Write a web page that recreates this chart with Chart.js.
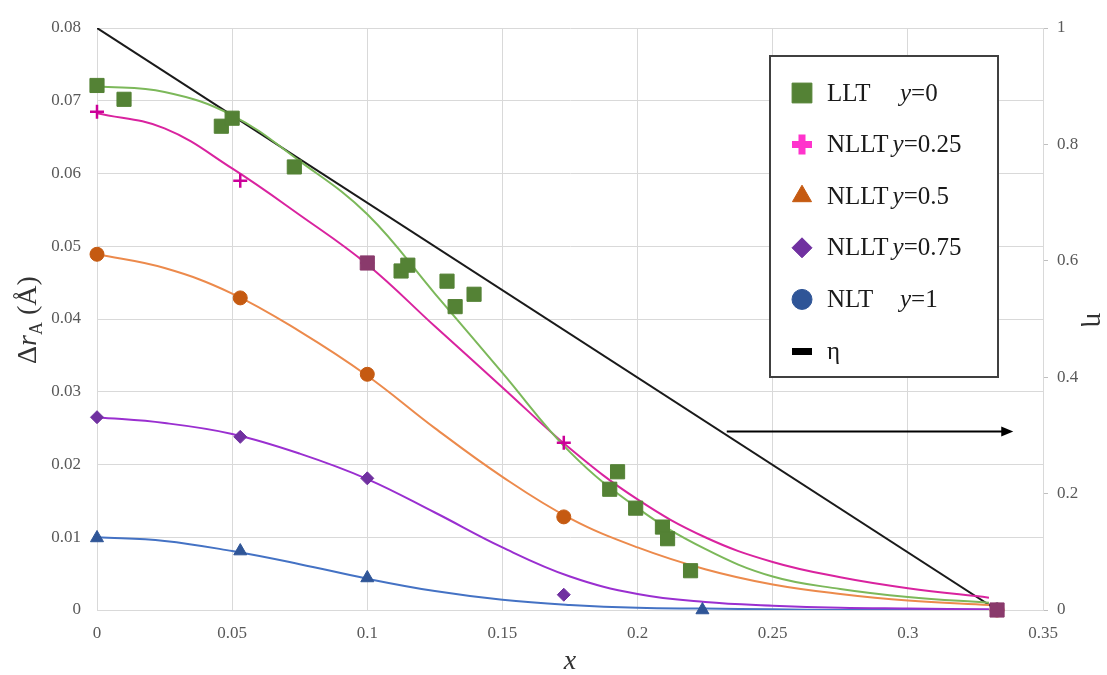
<!DOCTYPE html>
<html>
<head>
<meta charset="utf-8">
<script src="https://cdn.jsdelivr.net/npm/chart.js@4.4.1/dist/chart.umd.min.js"></script>
<style>
    html, body { margin: 0; padding: 0; background: #fff; }
</style>
</head>
<body>
<canvas id="chart" width="1107" height="675"></canvas>
<script>
const lltX = [0, 0.010, 0.046, 0.050, 0.073, 0.100, 0.1125, 0.115, 0.1295, 0.1325, 0.1395, 0.1897, 0.1926, 0.1993, 0.2092, 0.2111, 0.2196, 0.333];
const lltY = [0.0721, 0.0702, 0.0665, 0.0676, 0.0609, 0.0477, 0.0466, 0.0474, 0.0452, 0.0417, 0.0434, 0.0166, 0.0190, 0.0140, 0.0114, 0.0098, 0.0054, 0];

const nllt25X = [0, 0.053, 0.100, 0.1727, 0.333];
const nllt25Y = [0.0685, 0.0590, 0.0477, 0.0230, 0];

const nllt5X = [0, 0.053, 0.100, 0.1727, 0.333];
const nllt5Y = [0.0489, 0.0429, 0.0324, 0.0128, 0];

const nllt75X = [0, 0.053, 0.100, 0.1727, 0.333];
const nllt75Y = [0.0265, 0.0238, 0.0181, 0.0021, 0];

const nltX = [0, 0.053, 0.100, 0.224, 0.333];
const nltY = [0.0099, 0.0081, 0.0044, 0, 0];

// fitted curves, read at fixed x positions
const fitX = [0, 0.025, 0.05, 0.075, 0.1, 0.125, 0.15, 0.175, 0.2, 0.225, 0.25, 0.275, 0.3, 0.33];
const fitLLT = [0.0720, 0.0712, 0.0680, 0.0617, 0.0544, 0.0435, 0.0326, 0.0217, 0.0140, 0.0084, 0.0046, 0.0029, 0.0018, 0.0010];
const fitNLLT25 = [0.0683, 0.0662, 0.0607, 0.0543, 0.0475, 0.0390, 0.0306, 0.0222, 0.0152, 0.0100, 0.0066, 0.0045, 0.0030, 0.0017];
const fitNLLT5 = [0.0489, 0.0470, 0.0435, 0.0383, 0.0322, 0.0250, 0.0183, 0.0126, 0.0086, 0.0056, 0.0035, 0.0022, 0.0013, 0.0007];
const fitNLLT75 = [0.0265, 0.0257, 0.0242, 0.0215, 0.0180, 0.0134, 0.0086, 0.0046, 0.0022, 0.0011, 0.0006, 0.0003, 0.0002, 0.0001];
const fitNLT = [0.0100, 0.0095, 0.0081, 0.0063, 0.0043, 0.0026, 0.0014, 0.0007, 0.0003, 0.0002, 0.0001, 0, 0, 0];

// eta (right axis)
const etaX = [0, 0.333];
const etaY = [1, 0];
const arrowX = [0.233, 0.339];
const arrowEta = 0.307;

// legend
const legendNames = ['LLT', 'NLLT', 'NLLT', 'NLLT', 'NLT', 'η'];
const legendParams = ['=0', '=0.25', '=0.5', '=0.75', '=1', ''];

const SERIF = '"Liberation Serif", "Times New Roman", serif';
const GRID = '#d9d9d9';
const TICK = '#595959';
const GREEN = '#548235';
const MAUVE = '#8a3a6c';   // where a cross sits on top of a square

const pts = (xs, ys) => xs.map((x, i) => ({x: x, y: ys[i]}));

// squares that coincide with a y=0.25 cross look mauve in the original
const lltFill = lltX.map((x, i) => {
    const k = nllt25X.indexOf(x);
    return k >= 0 && Math.abs(nllt25Y[k] - lltY[i]) < 0.001 ? MAUVE : GREEN;
});

function markers(label, xs, ys, style, fill, border, radius, bw) {
    return {
        label: label,
        data: pts(xs, ys),
        yAxisID: 'y',
        showLine: false,
        clip: false,
        pointStyle: style,
        pointRadius: radius,
        pointBackgroundColor: fill,
        pointBorderColor: border,
        pointBorderWidth: bw
    };
}

function fitLine(label, ys, color) {
    return {
        label: label,
        data: pts(fitX, ys),
        yAxisID: 'y',
        borderColor: color,
        borderWidth: 2,
        pointRadius: 0,
        fill: false,
        tension: 0.4
    };
}

// legend marker styles (they differ from the plot markers in the original)
const legendMarks = [
    {pointStyle: 'rect', radius: 14, fill: GREEN, border: GREEN, bw: 1},
    {pointStyle: 'cross', radius: 10, fill: '#ff33cc', border: '#ff33cc', bw: 7},
    {pointStyle: 'triangle', radius: 11, fill: '#c55a11', border: '#c55a11', bw: 1},
    {pointStyle: 'rectRot', radius: 10, fill: '#7030a0', border: '#7030a0', bw: 1},
    {pointStyle: 'circle', radius: 10, fill: '#2f5597', border: '#2f5597', bw: 1},
    {pointStyle: 'bar'}
];

const decor = {
    id: 'decor',
    afterDatasetsDraw(chart) {
        const {ctx, scales} = chart;
        // arrow pointing at the right axis
        const x0 = scales.x.getPixelForValue(arrowX[0]);
        const x1 = scales.x.getPixelForValue(arrowX[1]);
        const y = Math.round(scales.y2.getPixelForValue(arrowEta)) + 0.5;
        ctx.save();
        ctx.strokeStyle = '#000';
        ctx.fillStyle = '#000';
        ctx.lineWidth = 2;
        ctx.beginPath();
        ctx.moveTo(x0, y);
        ctx.lineTo(x1 - 8, y);
        ctx.stroke();
        ctx.beginPath();
        ctx.moveTo(x1, y);
        ctx.lineTo(x1 - 12, y - 5);
        ctx.lineTo(x1 - 12, y + 5);
        ctx.closePath();
        ctx.fill();
        ctx.restore();
    },
    afterDraw(chart) {
        const ctx = chart.ctx;
        ctx.save();

        // legend box
        const bx = 770, by = 56, bw = 228, bh = 321;
        ctx.fillStyle = '#fff';
        ctx.fillRect(bx, by, bw, bh);
        ctx.strokeStyle = '#404040';
        ctx.lineWidth = 2;
        ctx.strokeRect(bx, by, bw, bh);

        ctx.textBaseline = 'middle';
        legendNames.forEach((name, i) => {
            const cy = 93 + i * 51.6;
            const m = legendMarks[i];
            if (m.pointStyle === 'bar') {
                ctx.fillStyle = '#000';
                ctx.fillRect(792, cy - 3, 20, 7);
            } else {
                ctx.fillStyle = m.fill;
                ctx.strokeStyle = m.border;
                ctx.lineWidth = m.bw;
                Chart.helpers.drawPoint(ctx, {pointStyle: m.pointStyle, radius: m.radius, rotation: 0, borderWidth: m.bw}, 802, cy);
            }
            ctx.fillStyle = '#1a1a1a';
            ctx.font = '25px ' + SERIF;
            ctx.fillText(name, 827, cy + 1);
            if (legendParams[i]) {
                const w = ctx.measureText(name).width;
                const px = name === 'NLLT' ? 827 + w + 4 : 900;
                ctx.font = 'italic 25px ' + SERIF;
                ctx.fillText('y', px, cy + 1);
                const yw = ctx.measureText('y').width;
                ctx.font = '25px ' + SERIF;
                ctx.fillText(legendParams[i], px + yw, cy + 1);
            }
        });

        // left axis title: Δr_A (Å)
        ctx.save();
        ctx.translate(36, 320);
        ctx.rotate(-Math.PI / 2);
        ctx.fillStyle = '#333';
        ctx.textBaseline = 'alphabetic';
        const parts = [
            {t: 'Δ', f: '28px ' + SERIF, dy: 0},
            {t: 'r', f: 'italic 28px ' + SERIF, dy: 0},
            {t: 'A', f: '18px ' + SERIF, dy: 6},
            {t: ' (Å)', f: '28px ' + SERIF, dy: 0}
        ];
        let total = 0;
        parts.forEach(p => { ctx.font = p.f; total += ctx.measureText(p.t).width; });
        let cx = -total / 2;
        parts.forEach(p => {
            ctx.font = p.f;
            ctx.fillText(p.t, cx, p.dy);
            cx += ctx.measureText(p.t).width;
        });
        ctx.restore();

        // x axis title
        ctx.fillStyle = '#333';
        ctx.font = 'italic 28px ' + SERIF;
        ctx.textAlign = 'center';
        ctx.textBaseline = 'middle';
        ctx.fillText('x', 570, 662);

        // right axis title
        ctx.save();
        ctx.translate(1094, 320);
        ctx.rotate(Math.PI / 2);
        ctx.font = '28px ' + SERIF;
        ctx.fillText('η', 0, 0);
        ctx.restore();

        ctx.restore();
    }
};

const tickFont = {family: SERIF, size: 17};

new Chart(document.getElementById('chart'), {
    type: 'line',
    data: {
        datasets: [
            markers('LLT y=0', lltX, lltY, 'rect', lltFill, lltFill, 10, 1),
            markers('NLT y=1', nltX, nltY, 'triangle', '#2f5597', '#2f5597', 7.5, 1),
            markers('NLLT y=0.75', nllt75X, nllt75Y, 'rectRot', '#7030a0', '#7030a0', 6.5, 1),
            markers('NLLT y=0.5', nllt5X, nllt5Y, 'circle', '#c55a11', '#c55a11', 7, 1),
            markers('NLLT y=0.25', nllt25X, nllt25Y, 'cross', '#cc0099', '#cc0099', 7, 2.5),
            fitLine('fit y=0', fitLLT, '#7cb85a'),
            fitLine('fit y=0.25', fitNLLT25, '#d9239f'),
            fitLine('fit y=0.5', fitNLLT5, '#ec8a4c'),
            fitLine('fit y=0.75', fitNLLT75, '#9a2fd0'),
            fitLine('fit y=1', fitNLT, '#4472c4'),
            {
                label: 'η',
                data: pts(etaX, etaY),
                yAxisID: 'y2',
                borderColor: '#1a1a1a',
                borderWidth: 2,
                pointRadius: 0,
                fill: false
            }
        ]
    },
    options: {
        responsive: false,
        animation: false,
        layout: {padding: {top: 28, left: 0, right: 0, bottom: 0}},
        plugins: {
            legend: {display: false},
            tooltip: {enabled: false}
        },
        scales: {
            x: {
                type: 'linear',
                min: 0,
                max: 0.35,
                afterFit: s => { s.height = 65; },
                grid: {color: GRID, drawTicks: false},
                border: {color: GRID},
                ticks: {
                    stepSize: 0.05,
                    padding: 13,
                    color: TICK,
                    font: tickFont,
                    callback: v => String(+v.toFixed(2))
                }
            },
            y: {
                position: 'left',
                min: 0,
                max: 0.08,
                afterFit: s => { s.width = 97; },
                grid: {color: GRID, drawTicks: false},
                border: {color: GRID},
                ticks: {
                    stepSize: 0.01,
                    padding: 16,
                    color: TICK,
                    font: tickFont,
                    callback: v => String(+v.toFixed(2))
                }
            },
            y2: {
                position: 'right',
                min: 0,
                max: 1,
                afterFit: s => { s.width = 64; },
                grid: {drawOnChartArea: false, color: '#bfbfbf', tickLength: 5},
                border: {color: GRID},
                ticks: {
                    stepSize: 0.2,
                    padding: 9,
                    color: TICK,
                    font: tickFont,
                    callback: v => String(+v.toFixed(1))
                }
            }
        }
    },
    plugins: [decor]
});
</script>
</body>
</html>
